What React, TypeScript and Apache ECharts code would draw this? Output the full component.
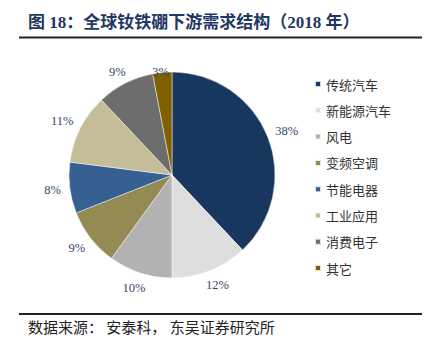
import React, { useEffect, useRef } from "react";
import * as echarts from "echarts";

const categories = ["传统汽车", "新能源汽车", "风电", "变频空调", "节能电器", "工业应用", "消费电子", "其它"];
const values = [38, 12, 10, 9, 8, 11, 9, 3];
const colors = ["#17375e", "#dedede", "#b2b2b2", "#948a54", "#376092", "#c4bd97", "#6d6d6d", "#7f6000"];
const titleText = "图 18：全球钕铁硼下游需求结构（2018 年）";
const sourceText = "数据来源： 安泰科， 东吴证券研究所";

const CX = 172;
const CY = 175;
const R = 103;
const LABEL_GAP = 9;
const PLOT_TOP = 65;

export default function App() {
  const ref = useRef<HTMLDivElement>(null);
  useEffect(() => {
    if (!ref.current) return;
    const chart = echarts.init(ref.current, null, { renderer: "svg" });
    const total = values.reduce((a, b) => a + b, 0);
    const cum: number[] = [];
    values.reduce((acc, v, i) => {
      cum[i] = acc;
      return acc + v;
    }, 0);
    chart.setOption({
      animation: false,
      backgroundColor: "#ffffff",
      color: colors,
      graphic: [
        {
          type: "text",
          left: 28,
          top: 14,
          style: {
            text: titleText,
            font: 'bold 17px "Liberation Serif", "Noto Sans CJK SC", serif',
            fill: "#1f3864",
          },
        },
        {
          type: "line",
          shape: { x1: 19, y1: 37.5, x2: 422, y2: 37.5 },
          style: { stroke: "#222222", lineWidth: 2 },
        },
        {
          type: "line",
          shape: { x1: 19, y1: 314, x2: 422, y2: 314 },
          style: { stroke: "#222222", lineWidth: 2 },
        },
        {
          type: "text",
          left: 28,
          top: 319,
          style: {
            text: sourceText,
            font: '15px "Noto Sans CJK SC", sans-serif',
            fill: "#222222",
          },
        },
      ],
      legend: {
        orient: "vertical",
        left: 309,
        top: 72,
        itemWidth: 6,
        itemHeight: 6,
        itemGap: 12.3,
        icon: "rect",
        data: categories,
        textStyle: {
          fontSize: 13,
          lineHeight: 14,
          color: "#333333",
          fontFamily: '"Noto Sans CJK SC", sans-serif',
        },
      },
      series: [
        {
          type: "pie",
          center: [CX, CY],
          radius: R,
          startAngle: 90,
          clockwise: true,
          avoidLabelOverlap: false,
          itemStyle: { borderColor: "rgba(255,255,255,0.8)", borderWidth: 0.6 },
          label: {
            show: true,
            position: "outside",
            formatter: "{c}%",
            fontSize: 12.5,
            color: "#34466b",
            fontFamily: '"Liberation Serif", "Times New Roman", serif',
          },
          labelLine: { show: false, length: 4, length2: 0 },
          labelLayout: (p: any) => {
            const i = p.dataIndex;
            const mid = ((cum[i] + values[i] / 2) / total) * Math.PI * 2;
            const dx = Math.sin(mid);
            const dy = -Math.cos(mid);
            const w = p.labelRect.width;
            const h = p.labelRect.height;
            const x = CX + dx * (R + LABEL_GAP) + (dx * w) / 2;
            let y = CY + dy * (R + LABEL_GAP) + (dy * h) / 2;
            y = Math.max(y, PLOT_TOP + h / 2);
            return { x, y, align: "center", verticalAlign: "middle" };
          },
          emphasis: { disabled: true },
          data: categories.map((name, i) => ({ name, value: values[i] })),
        },
      ],
    });
    return () => chart.dispose();
  }, []);
  return (
    <div
      ref={ref}
      style={{ position: "fixed", left: 0, top: 0, width: 428, height: 352, background: "#fff" }}
    />
  );
}
